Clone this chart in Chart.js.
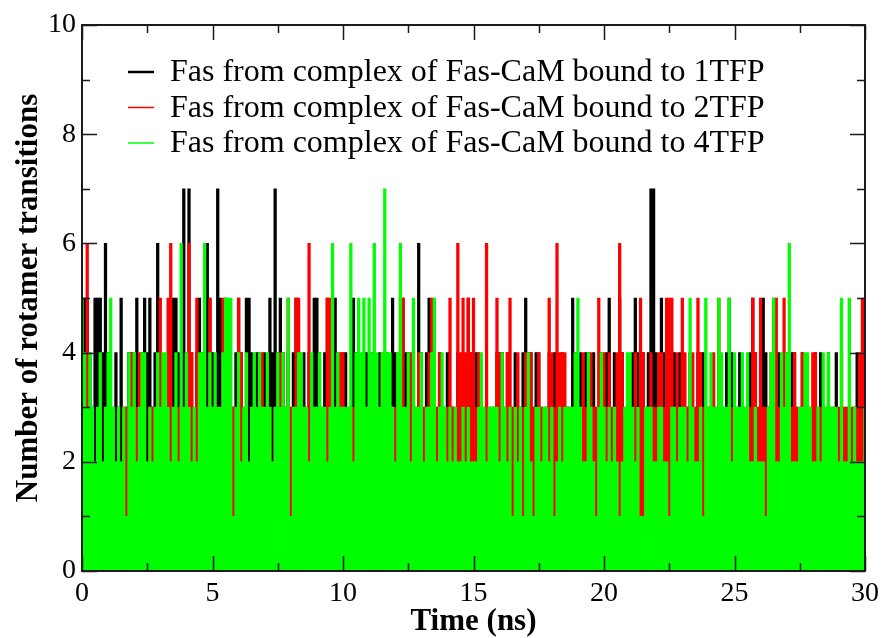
<!DOCTYPE html>
<html>
<head>
<meta charset="utf-8">
<script src="https://cdn.jsdelivr.net/npm/chart.js@4.4.1/dist/chart.umd.min.js"></script>
<style>
  body { margin: 0; background: #fff; }
  canvas { display: block; }
</style>
</head>
<body>
<canvas id="rotamer" width="886" height="638"></canvas>
<script>
// sampled every 0.1 ns, 0..30 ns, drawn as drop lines (bars from 0)
const sampleStep = 0.1;

const seriesLabels = [
  "Fas from complex of Fas-CaM bound to 1TFP",
  "Fas from complex of Fas-CaM bound to 2TFP",
  "Fas from complex of Fas-CaM bound to 4TFP",
];

const fas1TFP = [
  5,5,5,4,3,5,5,5,4,6, 4,3,3,4,3,5,3,3,4,4, 3,5,3,4,5,4,5,3,4,6, 4,3,3,4,5,5,5,4,3,7, 4,7,4,3,4,5,4,3,6,5,
  4,3,7,5,4,5,4,3,3,4, 5,4,3,5,5,4,3,4,4,3, 4,3,5,4,7,4,5,4,3,4, 3,4,5,4,3,4,3,4,3,5, 5,4,3,4,5,4,3,5,4,3,
  4,4,3,3,5,4,3,3,4,4, 3,4,3,3,4,3,3,4,3,5, 4,3,4,5,4,4,3,4,3,6, 4,3,4,5,4,3,3,4,3,3, 4,3,3,3,4,3,4,3,5,4,
  3,4,4,3,3,3,3,3,3,4, 4,4,3,4,3,3,4,3,3,4, 5,4,4,3,4,4,3,3,3,4, 3,4,4,3,4,3,3,3,5,4, 3,4,3,4,4,3,4,3,3,4,
  3,4,5,3,4,3,5,4,3,3, 3,4,5,4,3,4,3,4,7,7, 4,3,5,4,4,3,4,4,3,4, 4,3,3,4,3,3,4,4,4,3, 3,3,3,3,4,3,3,4,5,4,
  3,3,4,3,3,3,4,5,4,3, 4,5,4,3,3,4,3,4,3,4, 3,3,4,4,3,3,4,3,3,3, 3,4,3,4,3,3,4,3,3,4, 3,3,3,3,3,3,3,4,3,3,
  3,
];

const fas2TFP = [
  3,3,6,3,3,2,3,3,2,3, 3,3,3,2,3,2,3,3,3,4, 3,3,4,4,3,2,3,3,3,3, 5,3,3,5,6,3,3,3,3,3, 3,6,4,3,5,3,3,3,3,5,
  3,3,3,3,5,3,3,3,3,3, 5,4,2,3,2,3,3,3,3,4, 3,3,3,2,3,3,4,3,3,5, 3,3,5,5,3,3,3,6,3,3, 3,3,3,3,5,5,3,3,3,4,
  4,3,3,3,3,3,3,3,3,3, 3,3,3,3,3,4,3,3,3,3, 3,4,5,5,3,3,4,3,3,4, 3,3,3,4,5,3,3,4,3,3, 3,5,3,3,6,4,5,4,5,4,
  5,3,4,3,3,6,3,3,3,5, 4,3,3,4,5,3,3,4,3,3, 4,3,4,3,3,4,3,3,3,5, 4,3,6,4,4,4,3,3,3,4, 3,3,4,3,3,4,3,3,5,3,
  4,3,4,3,3,4,6,4,3,3, 3,3,4,3,5,4,3,3,4,3, 3,4,4,3,5,5,5,3,4,3, 5,4,3,3,4,3,5,4,3,3, 3,3,4,3,5,3,3,3,3,3,
  3,3,3,3,3,3,3,5,4,3, 5,3,3,3,4,5,5,3,3,5, 4,3,3,4,3,3,4,3,3,3, 4,4,3,3,3,3,3,3,3,3, 3,4,3,3,3,3,3,3,4,5,
  5,
];

const fas4TFP = [
  5,4,3,4,3,2,3,4,2,3, 4,5,3,2,3,2,3,1,4,3, 4,2,3,4,4,2,3,2,3,4, 3,4,4,3,2,3,4,2,6,3, 4,3,2,3,2,4,4,6,3,4,
  3,4,3,3,4,5,5,5,1,3, 4,2,3,4,2,3,4,3,4,3, 3,4,3,2,3,4,3,4,3,5, 1,3,3,4,4,3,3,2,4,3, 3,4,3,3,2,3,6,3,4,3,
  3,3,3,6,2,4,5,4,5,3, 5,4,6,4,3,4,7,4,4,3, 2,4,6,3,3,4,2,5,3,3, 4,2,3,3,4,5,2,3,4,3, 2,3,2,3,2,2,3,2,3,2,
  2,2,3,4,3,2,3,3,3,3, 2,4,3,2,3,1,3,2,3,1, 3,4,2,1,3,3,2,3,3,2, 3,1,2,3,2,3,3,3,3,4, 5,3,2,2,4,3,2,1,3,4,
  3,2,3,2,3,2,1,2,3,4, 4,3,2,3,1,1,3,3,3,2, 2,3,3,2,2,1,3,3,2,3, 3,3,2,5,3,2,2,3,1,5, 3,4,3,3,5,4,3,3,5,2,
  4,3,3,4,3,4,2,2,3,2, 2,2,1,3,4,5,2,2,4,3, 4,6,2,2,2,3,3,4,4,3, 2,2,3,2,4,3,4,3,3,3, 2,5,2,2,5,2,3,2,2,2,
  3,
];

const seriesColors = ["#000000", "#ff0000", "#00ff00"];

const xMajorTicks = [0, 5, 10, 15, 20, 25, 30];
const xMinorTicks = [2.5, 7.5, 12.5, 17.5, 22.5, 27.5];
const yMajorTicks = [0, 2, 4, 6, 8, 10];
const yMinorTicks = [1, 3, 5, 7, 9];

const toPoints = (vals) => vals.map((v, i) => ({ x: +(i * sampleStep).toFixed(1), y: v }));

const serif = "'Liberation Serif', 'Times New Roman', serif";

// inward ticks on all four sides + frame, like xmgrace
const frameTicks = {
  id: "frameTicks",
  afterDatasetsDraw(chart) {
    const { ctx, chartArea: a, scales } = chart;
    const x = scales.x, y = scales.y;
    ctx.save();
    ctx.strokeStyle = "#1a1a1a";
    ctx.lineWidth = 1.5;
    ctx.beginPath();
    const xt = (list, len) => list.forEach((v) => {
      const px = Math.round(x.getPixelForValue(v)) + 0.5;
      ctx.moveTo(px, a.bottom); ctx.lineTo(px, a.bottom - len);
      ctx.moveTo(px, a.top); ctx.lineTo(px, a.top + len);
    });
    const yt = (list, len) => list.forEach((v) => {
      const py = Math.round(y.getPixelForValue(v)) + 0.5;
      ctx.moveTo(a.left, py); ctx.lineTo(a.left + len, py);
      ctx.moveTo(a.right, py); ctx.lineTo(a.right - len, py);
    });
    xt(xMajorTicks, 15); xt(xMinorTicks, 8);
    yt(yMajorTicks, 15); yt(yMinorTicks, 8);
    ctx.stroke();
    ctx.lineWidth = 2;
    ctx.strokeRect(a.left, a.top, a.right - a.left, a.bottom - a.top);
    ctx.restore();
  },
  afterDraw(chart) {
    // legend inside the plot
    const { ctx } = chart;
    const rows = [72, 107.5, 143];
    ctx.save();
    ctx.font = "32px " + serif;
    ctx.textBaseline = "middle";
    chart.data.datasets.forEach((ds, i) => {
      ctx.strokeStyle = ds.backgroundColor;
      ctx.lineWidth = i === 0 ? 2.5 : 1.5;
      ctx.beginPath();
      ctx.moveTo(128, rows[i]);
      ctx.lineTo(154, rows[i]);
      ctx.stroke();
      ctx.fillStyle = "#000";
      ctx.fillText(ds.label, 170, rows[i] + 1);
    });
    ctx.restore();
  },
};

const datasets = [fas1TFP, fas2TFP, fas4TFP].map((vals, i) => ({
  label: seriesLabels[i],
  data: toPoints(vals),
  backgroundColor: seriesColors[i],
  borderWidth: 0,
  barPercentage: 1,
  categoryPercentage: 1,
  grouped: false,
  order: 3 - i, // green last, on top
}));

new Chart(document.getElementById("rotamer"), {
  type: "bar",
  data: { datasets },
  plugins: [frameTicks],
  options: {
    responsive: false,
    animation: false,
    layout: { padding: { top: 25, right: 21, left: 0, bottom: 0 } },
    plugins: {
      legend: { display: false },
      tooltip: { enabled: false },
    },
    scales: {
      x: {
        type: "linear",
        min: 0,
        max: 30,
        offset: false,
        afterBuildTicks: (s) => { s.ticks = xMajorTicks.map((v) => ({ value: v })); },
        afterFit: (s) => { s.height = 67; },
        grid: { display: false, drawTicks: false },
        border: { display: false },
        ticks: {
          color: "#000",
          padding: 6,
          maxRotation: 0,
          font: { family: serif, size: 28 },
        },
        title: {
          display: true,
          text: "Time (ns)",
          color: "#000",
          padding: { top: 0, bottom: -3 },
          font: { family: serif, size: 31, weight: "bold" },
        },
      },
      y: {
        min: 0,
        max: 10,
        afterBuildTicks: (s) => { s.ticks = yMajorTicks.map((v) => ({ value: v })); },
        afterFit: (s) => { s.width = 82; },
        grid: { display: false, drawTicks: false },
        border: { display: false },
        ticks: {
          color: "#000",
          padding: 6,
          font: { family: serif, size: 28 },
        },
        title: {
          display: true,
          text: "Number of rotamer transitions",
          color: "#000",
          padding: { top: 10, bottom: 0 },
          font: { family: serif, size: 31, weight: "bold" },
        },
      },
    },
  },
});
</script>
</body>
</html>
